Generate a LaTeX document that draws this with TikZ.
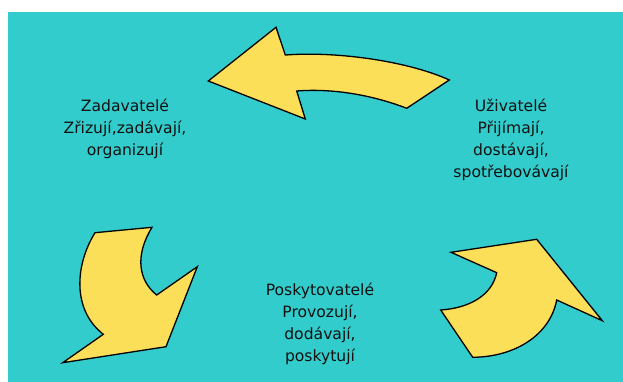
\documentclass[tikz,border=0pt]{standalone}
\usepackage{fontspec}
\setmainfont{DejaVu Sans}
\definecolor{teal}{RGB}{51,204,204}
\definecolor{arrowyellow}{RGB}{251,223,88}
\definecolor{txt}{RGB}{17,17,17}
\begin{document}
\begin{tikzpicture}[x=1pt,y=-1pt,
  arrowshape/.style={fill=arrowyellow,draw=black,line width=1.3pt,line join=miter},
  lbl/.style={align=center,inner sep=0pt,text=txt,font=\fontsize{15.6}{22}\selectfont}]
\useasboundingbox (0,0) rectangle (623,382);
\fill[white] (0,0) rectangle (623,382);
\fill[teal] (8,12) rectangle (623,382);
% top arrow
\draw[arrowshape] (208.3,81) -- (276,27.3) -- (285.3,55)
  .. controls (340,51) and (410,62) .. (449.3,80)
  -- (406.7,108.3)
  .. controls (375,96) and (335,88) .. (296.7,91)
  -- (305.3,119) -- cycle;
% bottom-left arrow
\draw[arrowshape] (95,232.7) -- (152,227.3)
  .. controls (135,255) and (138,280) .. (156.7,295)
  -- (197.3,266.7) -- (166,346.7) -- (62.7,362.7) -- (103.3,334.3)
  .. controls (72,310) and (75,265) .. cycle;
% right arrow
\draw[arrowshape] (451,252.3) -- (536.7,239.3) -- (602.3,320.7) -- (556.7,300)
  .. controls (550,335) and (515,357) .. (472.7,357.3)
  -- (440.7,310)
  .. controls (470,308) and (492,295) .. (496.7,272.7)
  -- cycle;
% labels
\node[lbl] (zad) at (125,129) {Zadavatelé\\Zřizují,zadávají,\\organizují};
\node[lbl] (uzi) at (511,140) {Uživatelé\\Přijímají,\\dostávají,\\spotřebovávají};
\node[lbl] (pos) at (320,324) {Poskytovatelé\\Provozují,\\dodávají,\\poskytují};
\end{tikzpicture}
\end{document}
